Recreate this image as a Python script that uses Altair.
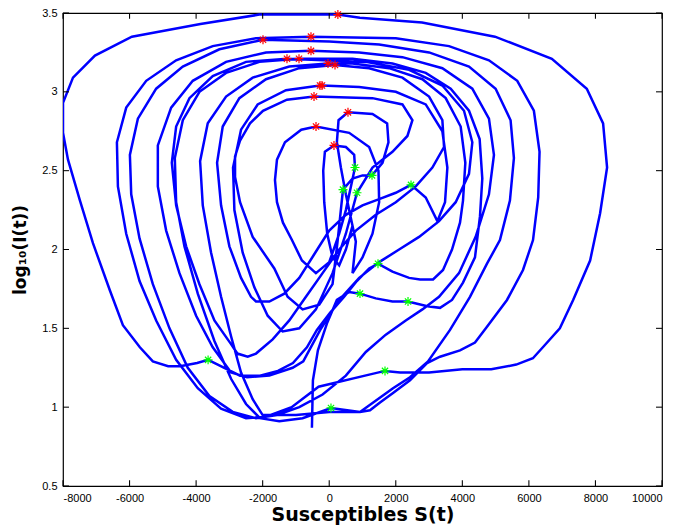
import altair as alt
import pandas as pd

# Trajectory of the epidemic in the (S, log10 I) phase plane, cycle by cycle.
cycle01_s = [-520, -490, -340, -70, 230, 600, 925, 1400, 1900, 2368, 2950, 3330, 3690, 4020, 4380, 4530, 4600,
             4520, 4200, 3650, 2900, 1900, 700, -908, -2100, -3100, -3900, -4400, -4640, -4600, -4350, -3950,
             -3450, -2950, -2500, -2080, -1500, -800, 53]
cycle01_i = [0.87, 1.17, 1.36, 1.53, 1.68, 1.73, 1.72, 1.69, 1.67, 1.67, 1.64, 1.63, 1.68, 1.79, 1.95, 2.21, 2.45,
             2.70, 2.88, 3.02, 3.12, 3.18, 3.21, 3.21, 3.19, 3.12, 3.00, 2.82, 2.58, 2.30, 2.02, 1.72,
             1.42, 1.18, 1.02, 0.93, 0.91, 0.93, 0.995]

cycle02_s = [925, 1225, 1526, 1917, 2427, 2938, 3329, 3930, 4381, 4741, 5342, 5823, 6124, 6280, 6320, 6150, 5650,
             4800, 3600, 2000, -548, -2200, -3500, -4600, -5500, -6100, -6380, -6350, -6100, -5700, -5200, -4600,
             -3950, -3250, -2500, -1900, -1130]
cycle02_i = [0.97, 0.98, 1.03, 1.09, 1.17, 1.28, 1.32, 1.36, 1.41, 1.51, 1.68, 1.87, 2.06, 2.33, 2.62, 2.88, 3.07,
             3.20, 3.29, 3.34, 3.35, 3.34, 3.29, 3.20, 3.07, 2.90, 2.68, 2.40, 2.10, 1.80, 1.55, 1.30,
             1.12, 0.99, 0.93, 0.94, 1.00]

cycle03_s = [-320, 1075, 1676, 2130, 3000, 4000, 4870, 5620, 6120, 6420, 6930, 7330, 7840, 8140, 8350, 8230, 7740,
             6690, 4980, 2790, 920, 260, -2100, -3870, -5930, -7040, -7700, -8000, -8000, -7850, -7490, -7100,
             -6590, -6200, -5690, -5300, -4840, -4480, -3970, -3640]
cycle03_i = [1.13, 1.20, 1.23, 1.22, 1.22, 1.24, 1.24, 1.27, 1.31, 1.38, 1.50, 1.68, 1.93, 2.23, 2.52, 2.80, 3.02,
             3.21, 3.35, 3.44, 3.47, 3.49, 3.49, 3.43, 3.35, 3.23, 3.09, 2.93, 2.74, 2.57, 2.31, 2.04,
             1.74, 1.52, 1.38, 1.29, 1.26, 1.26, 1.28, 1.30]

cycle04_s = [-3350, -2680, -2080, -1540, -1090, -670, -370, 30, 450, 830, 1200, 1466, 1900, 2400, 2730, 3120, 3420,
             3690, 3930, 4020, 4090, 3950, 3500, 2800, 1800, 700, -37, -1200, -2300, -3100, -3650, -3880,
             -3800, -3550, -3250, -2950, -2650, -2300, -2000, -1000, 0, 925]
cycle04_i = [1.27, 1.20, 1.20, 1.23, 1.28, 1.38, 1.49, 1.60, 1.70, 1.80, 1.88, 1.91, 1.86, 1.82, 1.81, 1.81, 1.87,
             2.00, 2.17, 2.31, 2.55, 2.78, 2.96, 3.08, 3.15, 3.18, 3.18, 3.16, 3.09, 2.97, 2.80, 2.56,
             2.28, 1.98, 1.70, 1.45, 1.22, 1.05, 0.95, 0.95, 0.97, 0.97]

cycle05_s = [1917, 2427, 2968, 3630, 4230, 4741, 5130, 5430, 5550, 5450, 5000, 4200, 3000, 1500, 0, -1990, -3300,
             -4400, -5200, -5750, -5990, -5950, -5700, -5300, -4800, -4250, -3600, -2900, -2200, -1570]
cycle05_i = [1.12, 1.19, 1.29, 1.49, 1.70, 1.91, 2.06, 2.31, 2.58, 2.82, 3.02, 3.16, 3.25, 3.30, 3.32, 3.33, 3.27,
             3.16, 3.02, 2.83, 2.60, 2.35, 2.07, 1.78, 1.50, 1.25, 1.07, 0.97, 0.93, 0.95]

cycle06_s = [-900, -200, 500, 1100, 1700, 2300, 2800, 3300, 3900, 4400, 4800, 4950, 4800, 4300, 3400, 2200, 900,
             -548, -1900, -3100, -4100, -4750, -5150, -5150, -4900, -4500, -4000, -3500, -2950, -2470, -1800,
             -1100, -780, -270, 300, 900, 1500, 2100, 2700, 3300, 3800]
cycle06_i = [1.00, 1.08, 1.20, 1.35, 1.46, 1.55, 1.62, 1.70, 1.85, 2.08, 2.35, 2.60, 2.83, 3.02, 3.15, 3.22, 3.25,
             3.26, 3.25, 3.19, 3.07, 2.90, 2.66, 2.40, 2.12, 1.85, 1.58, 1.38, 1.22, 1.19, 1.20,
             1.25, 1.29, 1.49, 1.68, 1.82, 1.92, 2.00, 2.08, 2.18, 2.30]

cycle07_s = [4200, 4300, 4050, 3400, 2400, 1100, -1269, -2500, -3500, -4200, -4600, -4730, -4600, -4300, -3900,
             -3450, -2950, -2760, -2450, -2200, -1700, -1200]
cycle07_i = [2.48, 2.68, 2.88, 3.04, 3.14, 3.19, 3.21, 3.19, 3.10, 2.96, 2.78, 2.55, 2.28, 2.02, 1.78,
             1.55, 1.40, 1.34, 1.32, 1.34, 1.43, 1.55]

cycle08_s = [-700, -200, 300, 800, 1400, 2000, 2600, 3100, 3450, 3400, 3000, 2200, 1200, 174, -900, -1900, -2700,
             -3200, -3370, -3250, -3000, -2650, -2350, -2200, -1800, -1350, -900, -450, 0, 500]
cycle08_i = [1.70, 1.85, 2.00, 2.12, 2.22, 2.30, 2.40, 2.52, 2.65, 2.82, 2.97, 3.09, 3.15, 3.17, 3.15, 3.08, 2.96,
             2.78, 2.55, 2.28, 2.02, 1.82, 1.70, 1.67, 1.67, 1.72, 1.82, 1.97, 2.12, 2.22]

cycle09_s = [1000, 1500, 2000, 2458, 2900, 3250, 3480, 3550, 3400, 2900, 2000, 900, -217, -277, -1300, -2150, -2650,
             -2890, -2850, -2600, -2250, -1850, -1400, -900, -400, 100, 500]
cycle09_i = [2.28, 2.32, 2.36, 2.41, 2.33, 2.18, 2.30, 2.52, 2.75, 2.92, 3.00, 3.03, 3.04, 3.04, 3.01, 2.92, 2.76,
             2.52, 2.25, 1.98, 1.76, 1.58, 1.48, 1.50, 1.62, 1.85, 2.10]

cycle10_s = [835, 1300, 1900, 2350, 2500, 2200, 1300, -457, -1270, -1990, -2380, -2680, -2830, -2830, -2680, -2300,
             -1650, -1250, -800, -300, 100, 250, 414]
cycle10_i = [2.36, 2.52, 2.62, 2.72, 2.82, 2.92, 2.96, 2.97, 2.95, 2.88, 2.80, 2.69, 2.59, 2.46, 2.30, 2.08,
             1.88, 1.70, 1.62, 1.65, 1.78, 2.05, 2.38]

cycle11_s = [700, 1000, 1286, 1600, 1780, 1740, 1300, 564, 280, 230, 350, 500, 650, 800, 700]
cycle11_i = [2.45, 2.47, 2.47, 2.55, 2.68, 2.80, 2.86, 2.87, 2.82, 2.68, 2.52, 2.35, 2.20, 2.05, 1.85]

cycle12_s = [1000, 1300, 1500, 1480, 1200, 600, -397, -840, -1330, -1570, -1630, -1570, -1390, -1120, -820,
             -400, 0, 300, 500, 775]
cycle12_i = [1.95, 2.10, 2.30, 2.50, 2.65, 2.74, 2.78, 2.76, 2.68, 2.57, 2.44, 2.30, 2.17, 2.06, 1.93,
             1.85, 1.92, 2.10, 2.25, 2.52]

cycle13_s = [750, 500, 143, -130, -180, -150, -60, 100, 300, 500, 700]
cycle13_i = [2.60, 2.65, 2.66, 2.62, 2.50, 2.30, 2.10, 1.95, 1.90, 2.00, 2.15]

# Annual peaks (red) and troughs (green)
peak_s = [260, -1990, -548, -548, -1269, -908, -37, 174, -277, -217, -457, 564, -397, 143]
peak_i = [3.49, 3.33, 3.35, 3.26, 3.21, 3.21, 3.18, 3.17, 3.04, 3.04, 2.97, 2.87, 2.78, 2.66]
trough_s = [775, 1286, 414, 835, 2458, 1466, 925, 2368, -3640, 1676, 53]
trough_i = [2.52, 2.47, 2.38, 2.36, 2.41, 1.91, 1.72, 1.67, 1.30, 1.23, 0.995]

# Axis ticks
x_ticks = [-8000, -6000, -4000, -2000, 0, 2000, 4000, 6000, 8000, 10000]
y_ticks = [0.5, 1, 1.5, 2, 2.5, 3, 3.5]
X_MIN, X_MAX = -8000, 10000
Y_MIN, Y_MAX = 0.5, 3.5

cycles_s = [cycle01_s, cycle02_s, cycle03_s, cycle04_s, cycle05_s, cycle06_s, cycle07_s,
            cycle08_s, cycle09_s, cycle10_s, cycle11_s, cycle12_s, cycle13_s]
cycles_i = [cycle01_i, cycle02_i, cycle03_i, cycle04_i, cycle05_i, cycle06_i, cycle07_i,
            cycle08_i, cycle09_i, cycle10_i, cycle11_i, cycle12_i, cycle13_i]
s_all, i_all = [], []
for cs, ci in zip(cycles_s, cycles_i):
    assert len(cs) == len(ci)
    s_all += cs
    i_all += ci
traj = pd.DataFrame({"step": range(len(s_all)), "S": s_all, "logI": i_all})
peaks = pd.DataFrame({"S": peak_s, "logI": peak_i})
troughs = pd.DataFrame({"S": trough_s, "logI": trough_i})

LABEL_FONT = "Liberation Sans"
TITLE_FONT = "DejaVu Sans"

xscale = alt.Scale(domain=[X_MIN, X_MAX], nice=False, zero=False)
yscale = alt.Scale(domain=[Y_MIN, Y_MAX], nice=False, zero=False)

xaxis = alt.Axis(values=x_ticks, labelExpr="'' + datum.value", title="Susceptibles S(t)",
                 grid=False, domain=False, ticks=False, labelPadding=6, labelFont=LABEL_FONT,
                 labelFontSize=11, labelColor="black", titleFont=TITLE_FONT, titleFontSize=19,
                 titleFontWeight="bold", titleColor="black", titlePadding=2)
yaxis = alt.Axis(values=y_ticks, labelExpr="'' + datum.value", title="log₁₀(I(t))",
                 grid=False, domain=False, ticks=False, labelPadding=6, labelFont=LABEL_FONT,
                 labelFontSize=11, labelColor="black", titleFont=TITLE_FONT, titleFontSize=17,
                 titleFontWeight="bold", titleColor="black", titlePadding=12)

line = alt.Chart(traj).mark_line(color="#0000FF", strokeWidth=2.5, clip=True).encode(
    x=alt.X("S:Q", scale=xscale, axis=xaxis),
    y=alt.Y("logI:Q", scale=yscale, axis=yaxis),
    order="step:Q",
)

ASTERISK = "M-1,0L1,0M0,-1L0,1M-0.7,-0.7L0.7,0.7M-0.7,0.7L0.7,-0.7"
mk = dict(shape=ASTERISK, filled=False, size=80, strokeWidth=1.2, opacity=1)
red_pts = alt.Chart(peaks).mark_point(color="#FF0000", **mk).encode(
    x=alt.X("S:Q", scale=xscale), y=alt.Y("logI:Q", scale=yscale))
green_pts = alt.Chart(troughs).mark_point(color="#00FF00", **mk).encode(
    x=alt.X("S:Q", scale=xscale), y=alt.Y("logI:Q", scale=yscale))

# Inward tick marks on all four sides of the box, as thin filled bars
tick_len_y = (Y_MAX - Y_MIN) * 0.012   # ~6 px
tick_len_x = (X_MAX - X_MIN) * 0.010   # ~6 px
half_w_x = (X_MAX - X_MIN) * 0.0009    # ~0.5 px
half_w_y = (Y_MAX - Y_MIN) * 0.0011    # ~0.5 px
xt = pd.DataFrame({"v": x_ticks})
xt["a"], xt["b"] = xt["v"] - half_w_x, xt["v"] + half_w_x
xt["b0"], xt["b1"] = Y_MIN, Y_MIN + tick_len_y
xt["t0"], xt["t1"] = Y_MAX - tick_len_y, Y_MAX
yt = pd.DataFrame({"v": y_ticks})
yt["a"], yt["b"] = yt["v"] - half_w_y, yt["v"] + half_w_y
yt["l0"], yt["l1"] = X_MIN, X_MIN + tick_len_x
yt["r0"], yt["r1"] = X_MAX - tick_len_x, X_MAX

tk = dict(color="black", opacity=1)
xt_bottom = alt.Chart(xt).mark_rect(**tk).encode(
    x=alt.X("a:Q", scale=xscale), x2="b:Q", y=alt.Y("b0:Q", scale=yscale), y2="b1:Q")
xt_top = alt.Chart(xt).mark_rect(**tk).encode(
    x=alt.X("a:Q", scale=xscale), x2="b:Q", y=alt.Y("t0:Q", scale=yscale), y2="t1:Q")
yt_left = alt.Chart(yt).mark_rect(**tk).encode(
    y=alt.Y("a:Q", scale=yscale), y2="b:Q", x=alt.X("l0:Q", scale=xscale), x2="l1:Q")
yt_right = alt.Chart(yt).mark_rect(**tk).encode(
    y=alt.Y("a:Q", scale=yscale), y2="b:Q", x=alt.X("r0:Q", scale=xscale), x2="r1:Q")

chart = alt.layer(line, red_pts, green_pts, xt_bottom, xt_top, yt_left, yt_right).properties(
    width=599, height=473,
    autosize=alt.AutoSizeParams(type="none"),
    padding={"left": 63, "top": 13, "right": 18, "bottom": 39},
    background="white",
).configure_view(stroke="black", strokeWidth=1.2)

chart.save("out.html", embed_options={"renderer": "svg", "actions": False})
